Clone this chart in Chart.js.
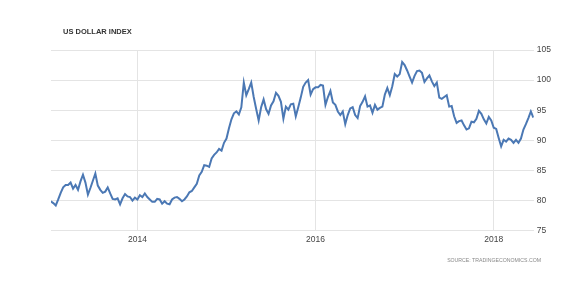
<!DOCTYPE html>
<html>
<head>
<meta charset="utf-8">
<script src="https://cdn.jsdelivr.net/npm/chart.js@4.4.1/dist/chart.umd.min.js"></script>
<style>
  html, body { margin: 0; padding: 0; background: #fff; }
  #wrap { position: relative; width: 584px; height: 289px; }
  #title {
    position: absolute; left: 63px; top: 27px;
    font: bold 7.5px "Liberation Sans", Arial, sans-serif; color: #333;
  }
  #source {
    position: absolute; right: 43px; top: 257px;
    font: 5.2px "Liberation Sans", Arial, sans-serif; color: #888;
  }
</style>
</head>
<body>
<div id="wrap">
  <canvas id="chart" width="584" height="289"></canvas>
  <div id="title">US DOLLAR INDEX</div>
  <div id="source">SOURCE: TRADINGECONOMICS.COM</div>
</div>
<script>
// US dollar index: three points a month (days 1, 11, 21)
const dxy2013 = [80.0, 79.9, 79.6, 79.2, 80.2, 81.3, 82.2, 82.6, 82.6, 83.0, 82.0, 82.6,
                 81.8, 83.2, 84.3, 83.0, 81.0, 82.1, 83.3, 84.5, 82.5, 81.8, 81.3, 81.5,
                 82.2, 81.2, 80.3, 80.2, 80.4, 79.4, 80.4, 81.1, 80.7, 80.6, 80.0, 80.5];
const dxy2014 = [80.2, 80.9, 80.6, 81.2, 80.6, 80.2, 79.8, 79.8, 80.3, 80.2, 79.5, 79.9,
                 79.5, 79.4, 80.2, 80.5, 80.6, 80.3, 79.9, 80.2, 80.7, 81.4, 81.6, 82.2,
                 82.8, 84.2, 84.8, 85.9, 85.8, 85.6, 87.0, 87.6, 88.0, 88.6, 88.3, 89.6];
const dxy2015 = [90.3, 92.0, 93.5, 94.5, 94.8, 94.3, 95.5, 99.6, 97.5, 98.5, 99.6, 97.2,
                 95.2, 93.3, 95.5, 96.8, 95.2, 94.4, 95.8, 96.5, 97.9, 97.4, 96.4, 93.6,
                 95.6, 95.1, 96.0, 96.1, 94.0, 95.5, 97.1, 98.9, 99.6, 100.0, 97.6, 98.5];
const dxy2016 = [98.8, 98.8, 99.2, 99.1, 95.9, 97.2, 98.2, 96.3, 95.9, 94.8, 94.2, 94.8,
                 92.7, 94.2, 95.3, 95.5, 94.2, 93.7, 95.7, 96.4, 97.3, 95.6, 95.8, 94.6,
                 95.9, 95.1, 95.4, 95.6, 97.6, 98.7, 97.5, 99.0, 101.0, 100.6, 101.0, 103.0];
const dxy2017 = [102.5, 101.6, 100.6, 99.6, 100.7, 101.5, 101.6, 101.2, 99.7, 100.3, 100.8, 99.8,
                 99.0, 99.6, 97.1, 96.9, 97.2, 97.5, 95.6, 95.7, 94.0, 92.9, 93.2, 93.3,
                 92.5, 91.8, 92.0, 93.1, 93.0, 93.6, 94.9, 94.4, 93.5, 92.8, 93.9, 93.3];
const dxy2018 = [92.1, 91.9, 90.4, 89.0, 90.1, 89.8, 90.3, 90.1, 89.6, 90.1, 89.6, 90.3,
                 91.8, 92.7, 93.7, 94.8, 93.8];

const firstYear = 2013;
const dayOfMonth = [1, 11, 21];
const yearTicks = [2014, 2016, 2018];
const valueTicks = [75, 80, 85, 90, 95, 100, 105];

const values = [].concat(dxy2013, dxy2014, dxy2015, dxy2016, dxy2017, dxy2018);
const points = values.map((v, i) => {
  const month = Math.floor(i / 3);
  const day = dayOfMonth[i % 3];
  return { x: firstYear + (month + (day - 1) / 30) / 12, y: v };
});

const ctx = document.getElementById('chart').getContext('2d');
new Chart(ctx, {
  type: 'line',
  data: {
    datasets: [{
      data: points,
      borderColor: '#4b78b4',
      borderWidth: 2,
      pointRadius: 0,
      tension: 0,
      fill: false
    }]
  },
  options: {
    responsive: false,
    animation: false,
    layout: { padding: { left: 51, top: 50, right: 30, bottom: 40 } },
    plugins: { legend: { display: false }, tooltip: { enabled: false } },
    scales: {
      x: {
        type: 'linear',
        min: 2013.03,
        max: 2018.45,
        afterBuildTicks: axis => { axis.ticks = yearTicks.map(v => ({ value: v })); },
        grid: { color: '#e4e4e4', drawTicks: false },
        border: { display: false },
        ticks: {
          color: '#444',
          padding: 4,
          font: { family: 'Liberation Sans', size: 8.5 },
          callback: v => String(v)
        }
      },
      y: {
        position: 'right',
        min: 75,
        max: 105,
        afterBuildTicks: axis => { axis.ticks = valueTicks.map(v => ({ value: v })); },
        grid: { color: '#e4e4e4', drawTicks: false },
        border: { display: false },
        ticks: {
          color: '#444',
          padding: 3,
          font: { family: 'Liberation Sans', size: 8.5 }
        }
      }
    }
  }
});
</script>
</body>
</html>
